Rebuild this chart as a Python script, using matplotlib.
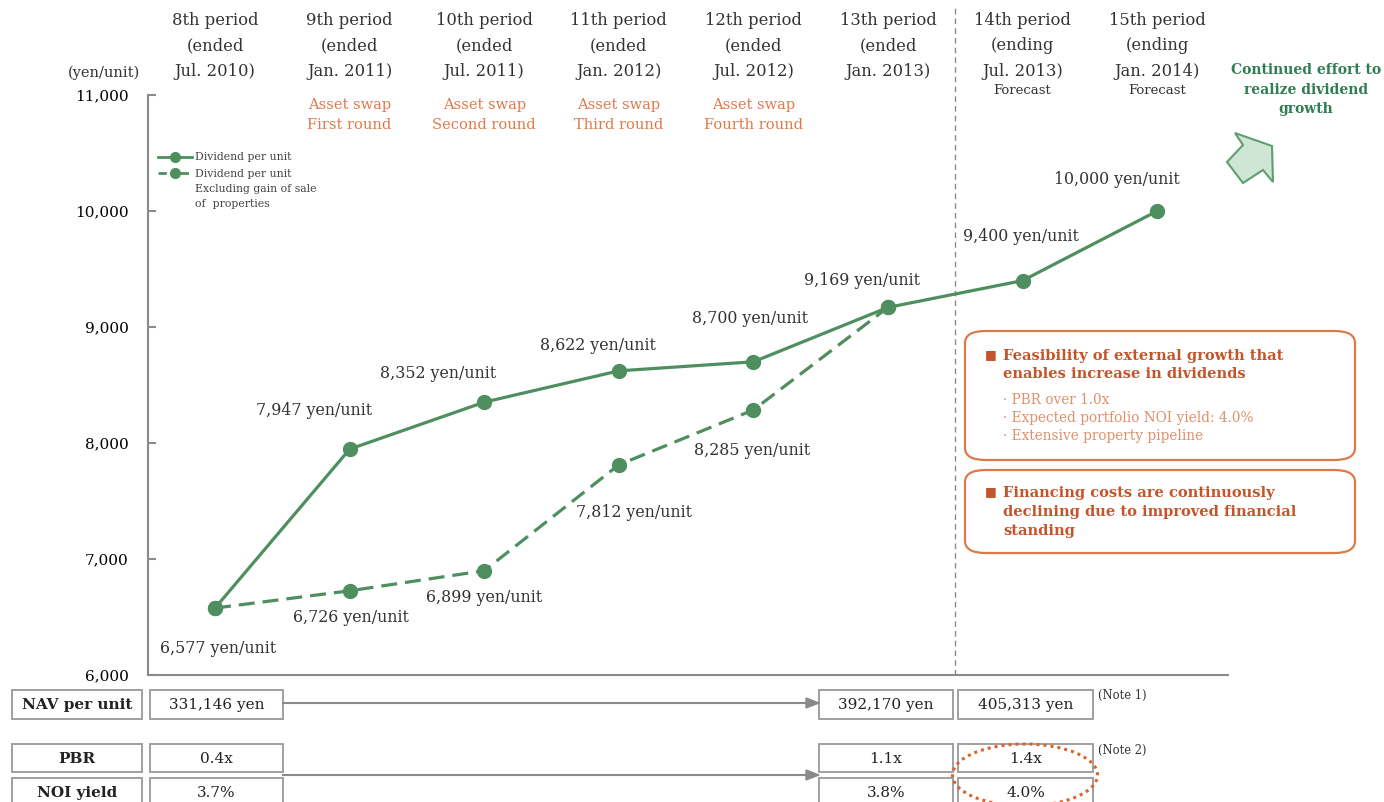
import numpy as np
import matplotlib
matplotlib.use("Agg")
from matplotlib import pyplot as plt
from matplotlib.patches import Rectangle, FancyBboxPatch, Polygon, Ellipse
from matplotlib.lines import Line2D

# ---- data ----
periods = ["8th period\n(ended\nJul. 2010)", "9th period\n(ended\nJan. 2011)",
           "10th period\n(ended\nJul. 2011)", "11th period\n(ended\nJan. 2012)",
           "12th period\n(ended\nJul. 2012)", "13th period\n(ended\nJan. 2013)",
           "14th period\n(ending\nJul. 2013)", "15th period\n(ending\nJan. 2014)"]
forecast = [False, False, False, False, False, False, True, True]
swaps = ["", "Asset swap\nFirst round", "Asset swap\nSecond round",
         "Asset swap\nThird round", "Asset swap\nFourth round", "", "", ""]
dividend = [6577, 7947, 8352, 8622, 8700, 9169, 9400, 10000]
dividend_ex = [6577, 6726, 6899, 7812, 8285, 9169]
# label offsets in pixels (dx, dy)
div_off = [(3, -40), (-36, 39), (-46, 29), (-21, 25), (-3, 43), (-26, 27), (-2, 44), (-40, 31)]
ex_off = [None, (1, -27), (0, -27), (15, -48), (-1, -41), None]

nav_vals = ["331,146 yen", "392,170 yen", "405,313 yen"]
pbr_vals = ["0.4x", "1.1x", "1.4x"]
noi_vals = ["3.7%", "3.8%", "4.0%"]

W, H = 1384, 802
plt.rcParams["font.family"] = ["DejaVu Serif"]
GREEN = "#4f8f5f"
ORANGE = "#e07a4c"
DORANGE = "#c4552a"
GRAY = "#8a8a8a"


def px(x, y):
    return (x / W, 1 - y / H)


fig = plt.figure(figsize=(W / 100, H / 100), dpi=100)
ax = fig.add_axes([148 / W, 1 - 675 / H, (1228 - 148) / W, (675 - 95) / H])
x = np.arange(len(dividend))
ax.set_xlim(-0.498, 7.526)
ax.set_ylim(6000, 11000)
for s in ["top", "right"]:
    ax.spines[s].set_visible(False)
for s in ["left", "bottom"]:
    ax.spines[s].set_color(GRAY)
    ax.spines[s].set_linewidth(1.5)
ax.set_xticks([])
ax.set_yticks(range(6000, 11001, 1000))
ax.set_yticklabels([f"{v:,}" for v in range(6000, 11001, 1000)], fontsize=11)
ax.tick_params(axis="y", direction="in", length=6, width=1.5, color=GRAY, pad=14)
ax.axvline(5.5, ymin=0, ymax=1.15, color=GRAY, ls=(0, (4, 3)), lw=1, clip_on=False)

ax.plot(x, dividend, color=GREEN, lw=2.3, marker="o", ms=10, zorder=3)
ax.plot(x[:len(dividend_ex)], dividend_ex, color=GREEN, lw=2.3, ls=(0, (5, 2.5)),
        marker="o", ms=10, zorder=3)

for i, v in enumerate(dividend):
    ax.annotate(f"{v:,} yen/unit", (i, v), xytext=div_off[i], textcoords="offset pixels",
                ha="center", va="center", fontsize=11.4, color="#333333")
for i, v in enumerate(dividend_ex):
    if ex_off[i] is not None:
        ax.annotate(f"{v:,} yen/unit", (i, v), xytext=ex_off[i], textcoords="offset pixels",
                    ha="center", va="center", fontsize=11.4, color="#333333")

# headers
for i, p in enumerate(periods):
    xc = 215 + 134.6 * i
    fig.text(*px(xc, 46), p, ha="center", va="center", fontsize=11.8, color="#333333",
             linespacing=1.62)
    if forecast[i]:
        fig.text(*px(xc, 91), "Forecast", ha="center", va="center", fontsize=9.5, color="#333333")
    if swaps[i]:
        fig.text(*px(xc, 115), swaps[i], ha="center", va="center", fontsize=10.5,
                 color=ORANGE, linespacing=1.6)
fig.text(*px(104, 73), "(yen/unit)", ha="center", va="center", fontsize=10.5, color="#333333")

# legend
fig.add_artist(Line2D([158 / W, 192 / W], [1 - 157 / H] * 2, color=GREEN, lw=2, transform=fig.transFigure))
fig.add_artist(Line2D([175 / W], [1 - 157 / H], color=GREEN, marker="o", ms=7, transform=fig.transFigure))
fig.add_artist(Line2D([158 / W, 192 / W], [1 - 173 / H] * 2, color=GREEN, lw=2, ls=(0, (3, 5)),
                      transform=fig.transFigure))
fig.add_artist(Line2D([175 / W], [1 - 173 / H], color=GREEN, marker="o", ms=7, transform=fig.transFigure))
fig.text(*px(195, 157), "Dividend per unit", ha="left", va="center", fontsize=7.8, color="#444444")
fig.text(*px(195, 189), "Dividend per unit\nExcluding gain of sale\nof  properties", ha="left", va="center",
         fontsize=7.8, color="#444444", linespacing=1.65)

# right side message + arrow
fig.text(*px(1306, 90), "Continued effort to\nrealize dividend\ngrowth", ha="center", va="center",
         fontsize=10, fontweight="bold", color="#2f7d52", linespacing=1.5)
arrow_pts = [(1235, 133), (1272, 146), (1273, 182), (1263, 170), (1243, 183), (1227, 162), (1243, 145)]
fig.add_artist(Polygon([px(*p) for p in arrow_pts], closed=True, facecolor="#cfe6d5", edgecolor="#5f9e70",
                       lw=1.5, transform=fig.transFigure))

# orange boxes
for (x0, y0, x1, y1) in [(965, 331, 1355, 460), (965, 470, 1355, 553)]:
    fig.add_artist(FancyBboxPatch(px(x0, y1), (x1 - x0) / W, (y1 - y0) / H,
                                  boxstyle="round,pad=0,rounding_size=0.015", transform=fig.transFigure,
                                  facecolor="white", edgecolor="#dc7a4a", lw=1.6))
fig.text(*px(985, 355), "\u25A0", ha="left", va="center", fontsize=9, color=DORANGE)
fig.text(*px(1003, 365), "Feasibility of external growth that\nenables increase in dividends",
         ha="left", va="center", fontsize=10.5, fontweight="bold", color=DORANGE, linespacing=1.45)
fig.text(*px(1003, 418), "\u00b7 PBR over 1.0x\n\u00b7 Expected portfolio NOI yield: 4.0%\n\u00b7 Extensive property pipeline",
         ha="left", va="center", fontsize=9.8, color="#e0906a", linespacing=1.4)
fig.text(*px(985, 492), "\u25A0", ha="left", va="center", fontsize=9, color=DORANGE)
fig.text(*px(1003, 512), "Financing costs are continuously\ndeclining due to improved financial\nstanding",
         ha="left", va="center", fontsize=10.5, fontweight="bold", color=DORANGE, linespacing=1.45)


# bottom table
def cell(x0, y0, x1, y1, txt, bold=False):
    fig.add_artist(Rectangle(px(x0, y1), (x1 - x0) / W, (y1 - y0) / H, transform=fig.transFigure,
                             facecolor="white", edgecolor="#a0a0a0", lw=1.4))
    fig.text(*px((x0 + x1) / 2, (y0 + y1) / 2 + 1), txt, ha="center", va="center", fontsize=11,
             fontweight="bold" if bold else "normal", color="#222222")


cols = [(150, 283), (819, 953), (958, 1093)]
rows = [("NAV per unit", nav_vals, 690, 719), ("PBR", pbr_vals, 744, 772), ("NOI yield", noi_vals, 778, 806)]
for label, vals, y0, y1 in rows:
    cell(12, y0, 142, y1, label, bold=True)
    for (c0, c1), v in zip(cols, vals):
        cell(c0, y0, c1, y1, v)

for yy in (703, 775):
    fig.add_artist(Line2D([283 / W, 810 / W], [1 - yy / H] * 2, color=GRAY, lw=1.5, transform=fig.transFigure))
    fig.add_artist(Polygon([px(819, yy), px(806, yy - 5), px(806, yy + 5)], closed=True, color=GRAY,
                           transform=fig.transFigure))
fig.text(*px(1098, 695), "(Note 1)", ha="left", va="center", fontsize=8.3, color="#333333")
fig.text(*px(1098, 750), "(Note 2)", ha="left", va="center", fontsize=8.3, color="#333333")
fig.add_artist(Ellipse(px(1025, 775), 145 / W, 62 / H, transform=fig.transFigure, facecolor="none",
                       edgecolor="#d9642e", lw=2.2, ls=(0, (1, 1.3))))

fig.savefig("out.png", dpi=100)
